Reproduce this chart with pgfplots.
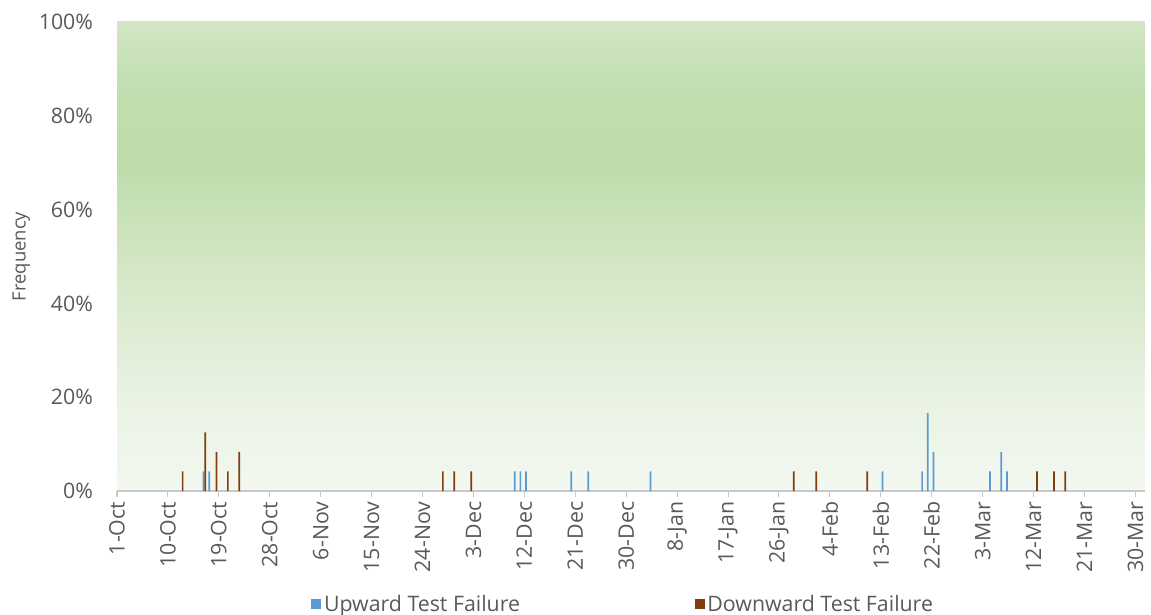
\documentclass[border=0pt]{standalone}
\usepackage{fontspec}
\setmainfont{Open Sans}
\usepackage{pgfplots}
\pgfplotsset{compat=1.18}
\definecolor{upblue}{RGB}{91,155,213}
\definecolor{downbrown}{RGB}{132,60,12}
\definecolor{txtgray}{RGB}{89,89,89}
\definecolor{axgray}{RGB}{200,200,200}
\definecolor{bgA}{RGB}{243,248,240}
\definecolor{bgB}{RGB}{233,242,227}
\definecolor{bgC}{RGB}{214,232,201}
\definecolor{bgD}{RGB}{190,220,171}
\definecolor{bgE}{RGB}{192,221,174}
\definecolor{bgF}{RGB}{209,230,197}
% the shading is scaled so that 25bp..75bp covers the plot area
\pgfdeclareverticalshading{plotbg}{100bp}{color(0bp)=(bgA); color(25bp)=(bgA); color(35bp)=(bgB); color(47.5bp)=(bgC); color(60bp)=(bgD); color(67bp)=(bgE); color(75bp)=(bgF); color(100bp)=(bgF)}
\pgfplotsset{sqlegend/.style={legend image code/.code={\fill[##1] (0pt,-3.75pt) rectangle (7.5pt,3.75pt);}}}
\begin{document}
\begin{tikzpicture}
\useasboundingbox (0,0) rectangle (863.25pt,460.5pt);
\begin{axis}[
  at={(87.75pt,92.25pt)}, anchor=south west,
  scale only axis, width=771pt, height=351.75pt,
  xmin=0, xmax=181.7, ymin=0, ymax=100,
  axis background/.style={shading=plotbg},
  axis x line*=bottom, axis y line*=left,
  separate axis lines,
  x axis line style={draw=axgray, line width=0.8pt},
  y axis line style={draw=none},
  ytick style={draw=none},
  xtick style={draw=axgray, line width=0.8pt},
  tick align=outside, major tick length=4.5pt,
  xtick={0,9,...,180},
  xticklabels={1-Oct,10-Oct,19-Oct,28-Oct,6-Nov,15-Nov,24-Nov,3-Dec,12-Dec,21-Dec,30-Dec,8-Jan,17-Jan,26-Jan,4-Feb,13-Feb,22-Feb,3-Mar,12-Mar,21-Mar,30-Mar},
  xticklabel style={rotate=90, anchor=east, font=\fontsize{16}{19}\selectfont, text=txtgray},
  ytick={0,20,...,100},
  yticklabel={\pgfmathprintnumber{\tick}\%},
  yticklabel style={font=\fontsize{16}{19}\selectfont, text=txtgray, xshift=-10pt},
  /pgf/number format/assume math mode=true,
  ylabel={Frequency},
  ylabel style={at={(axis description cs:-0.093,0.5)}, anchor=center, font=\fontsize{13.8}{16}\selectfont, text=txtgray},
  legend columns=2,
  legend style={draw=none, fill=none, at={(0.4927,-0.241)}, anchor=center, font=\fontsize{16}{19}\selectfont, text=txtgray, /tikz/every even column/.append style={column sep=129pt}},
]
\addplot[ybar, bar width=0.3, bar shift=0.3, fill=upblue, draw=none, sqlegend] coordinates {
(15,4.17) (16,4.17) (70,4.17) (71,4.17) (72,4.17) (80,4.17) (83,4.17) (94,4.17)
(135,4.17) (142,4.17) (143,16.67) (144,8.33) (154,4.17) (156,8.33) (157,4.17)};
\addlegendentry{Upward Test Failure}
\addplot[ybar, bar width=0.3, bar shift=0.6, fill=downbrown, draw=none, sqlegend] coordinates {
(11,4.17) (15,12.5) (17,8.33) (19,4.17) (21,8.33) (57,4.17) (59,4.17) (62,4.17)
(119,4.17) (123,4.17) (132,4.17) (162,4.17) (165,4.17) (167,4.17)};
\addlegendentry{Downward Test Failure}
\end{axis}
\end{tikzpicture}
\end{document}
